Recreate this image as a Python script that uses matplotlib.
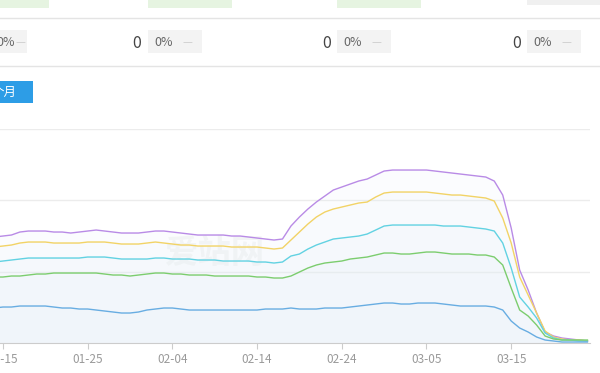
import numpy as np
import pandas as pd
import matplotlib
matplotlib.use("Agg")
import matplotlib.pyplot as plt
from matplotlib.patches import Rectangle

plt.rcParams['font.family'] = ['Noto Sans CJK SC', 'DejaVu Sans']

# daily values, 2020-01-10 .. 2020-03-24
dates = pd.date_range("2020-01-10", "2020-03-24", freq="D")

purple = [104, 104, 105, 105, 106, 107, 108, 111, 112, 112, 112, 111, 111, 110, 111,
          112, 113, 112, 111, 110, 110, 110, 111, 112, 112, 111, 110, 109, 108, 108,
          108, 108, 107, 107, 106, 105, 104, 103, 104, 117, 126, 134, 141, 147, 153,
          156, 159, 162, 164, 168, 172, 173, 173, 173, 173, 173, 172, 171, 170, 169,
          168, 167, 166, 162, 148, 115, 73, 53, 30, 11, 7, 5, 4, 3, 2]
yellow = [94, 94, 95, 95, 96, 97, 98, 100, 101, 101, 101, 100, 100, 100, 100,
          101, 101, 101, 100, 99, 99, 99, 100, 101, 100, 99, 98, 98, 97, 97,
          97, 97, 96, 96, 96, 96, 95, 94, 95, 103, 111, 119, 126, 131, 134,
          136, 138, 140, 141, 146, 150, 151, 151, 151, 151, 151, 150, 149, 148, 148,
          147, 146, 145, 142, 125, 100, 66, 48, 30, 12, 6, 4, 3, 3, 2]
cyan = [79, 79, 80, 80, 81, 82, 83, 84, 85, 85, 85, 85, 85, 85, 85,
        86, 86, 86, 85, 84, 84, 84, 84, 85, 85, 84, 84, 84, 83, 83,
        83, 82, 82, 82, 82, 81, 81, 80, 81, 87, 89, 94, 98, 101, 104,
        105, 106, 107, 109, 113, 117, 118, 118, 118, 118, 118, 118, 117, 117, 117,
        116, 115, 114, 112, 100, 75, 46, 36, 25, 10, 5, 3, 3, 2, 2]
green = [64, 64, 65, 65, 66, 66, 67, 67, 68, 69, 69, 70, 70, 70, 70,
         70, 70, 69, 68, 68, 67, 68, 69, 70, 70, 69, 69, 68, 68, 68,
         67, 67, 67, 67, 67, 66, 66, 65, 65, 67, 71, 75, 78, 80, 81,
         82, 84, 85, 86, 88, 90, 90, 89, 89, 90, 91, 91, 90, 89, 89,
         89, 88, 88, 86, 78, 55, 33, 27, 18, 7, 4, 3, 3, 3, 3]
blue = [34, 34, 35, 35, 35, 36, 36, 37, 37, 37, 37, 36, 35, 35, 34,
        34, 33, 32, 31, 30, 30, 31, 33, 34, 35, 35, 34, 33, 33, 33,
        33, 33, 33, 33, 33, 33, 34, 34, 34, 35, 34, 34, 34, 35, 35,
        35, 36, 37, 38, 39, 40, 40, 39, 39, 40, 40, 40, 39, 38, 37,
        37, 37, 37, 36, 33, 22, 15, 11, 6, 3, 2, 1, 1, 1, 1]

series = [purple, yellow, cyan, green, blue]
colors = ['#b98be6', '#f2d366', '#62d2e2', '#7ccd6e', '#68ade2']

tick_dates = pd.date_range("2020-01-15", "2020-03-15", freq="10D")
tick_labels = [d.strftime("%m-%d") for d in tick_dates]

fig = plt.figure(figsize=(6, 3.73), dpi=100)

# page elements above the chart, pixel coords
bg = fig.add_axes([0, 0, 1, 1])
bg.set_xlim(0, 600)
bg.set_ylim(373, 0)
bg.axis('off')
for x0, x1 in [(0, 49), (148, 232), (337, 421)]:
    bg.add_patch(Rectangle((x0, 0), x1 - x0, 7.5, color='#e6f4e1', lw=0))
bg.add_patch(Rectangle((527, 0), 73, 5, color='#f0f0f0', lw=0))
bg.plot([0, 600], [18, 18], color='#e4e4e4', lw=1)
bg.plot([0, 600], [66, 66], color='#e4e4e4', lw=1)

bg.add_patch(Rectangle((0, 30), 27, 23, color='#f3f3f3', lw=0))
bg.text(-4, 43, "0%", fontsize=9, color='#666666', ha='left', va='center')
bg.text(15, 43, "—", fontsize=8, color='#cccccc', ha='left', va='center')
for x_num, x_box in [(137, 148), (327, 337), (517, 527)]:
    bg.add_patch(Rectangle((x_box, 30), 54, 23, color='#f3f3f3', lw=0))
    bg.text(x_num, 43, "0", fontsize=11.5, color='#444444', ha='center', va='center')
    bg.text(x_box + 6, 43, "0%", fontsize=9, color='#666666', ha='left', va='center')
    bg.text(x_box + 34, 43, "—", fontsize=8, color='#cccccc', ha='left', va='center')

bg.add_patch(Rectangle((0, 81), 33, 22, color='#2d9de6', lw=0))
bg.text(-8, 92, "个月", fontsize=9, color='white', ha='left', va='center')
bg.text(215, 253, "爱站网", fontsize=24, color='#f5f5f5', ha='center', va='center',
        fontweight='bold')

# chart
ax = fig.add_axes([-0.0657, 0.0804, 1.049, 0.575])
ax.patch.set_alpha(0)
for s, c in zip(series, colors):
    ax.fill_between(dates, 0, s, color='#e3eef7', alpha=0.12, lw=0)
    ax.plot(dates, s, color=c, lw=1.0)

ax.set_xlim(dates[0], dates[0] + pd.Timedelta(days=74.3))
ax.set_ylim(0, 214.5)
ax.set_yticks([71.5, 143, 214.5])
ax.yaxis.grid(True, color='#ececec', lw=1)
ax.tick_params(axis='y', length=0, labelleft=False)
ax.set_xticks(tick_dates)
ax.set_xticklabels(tick_labels, fontsize=8.5, color='#9a9a9a')
ax.tick_params(axis='x', length=4, color='#cccccc', pad=3)
for side in ['top', 'right', 'left']:
    ax.spines[side].set_visible(False)
ax.spines['bottom'].set_color('#cccccc')
ax.set_axisbelow(True)

fig.savefig("out.png", dpi=100)
